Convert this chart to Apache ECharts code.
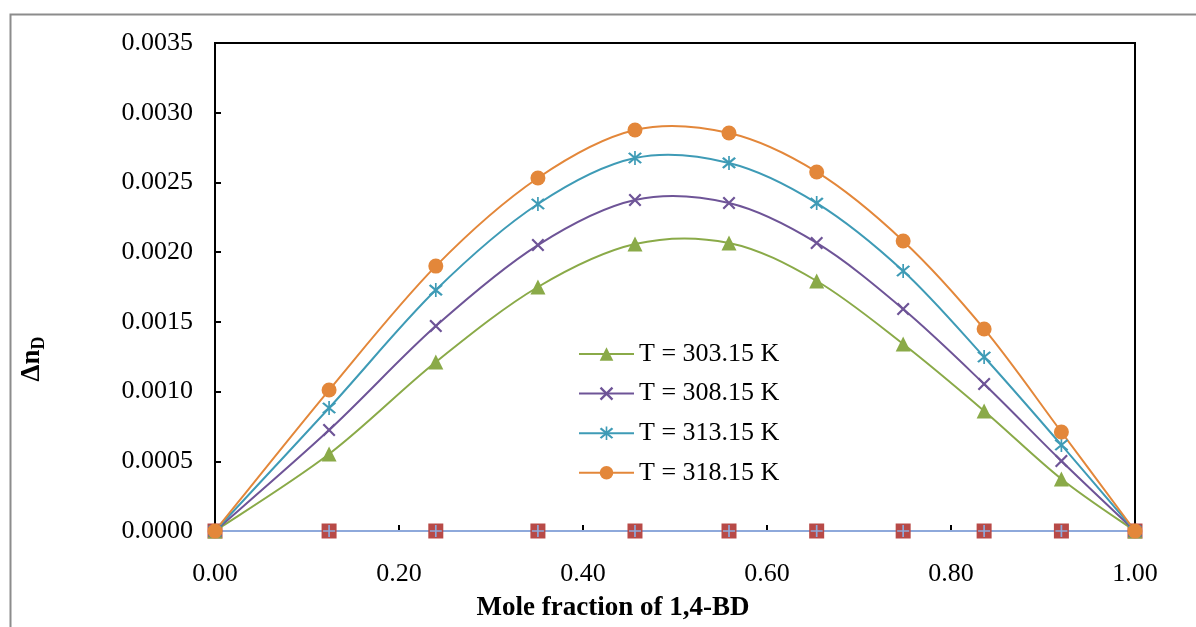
<!DOCTYPE html>
<html><head><meta charset="utf-8">
<script src="https://cdn.jsdelivr.net/npm/echarts@6/dist/echarts.min.js"></script>
<style>html,body{margin:0;padding:0;background:#fff}#c{width:1196px;height:627px}</style>
</head><body><div id="c"></div>
<script>
const xValues = [0, 0.124, 0.240, 0.351, 0.4565, 0.5587, 0.654, 0.748, 0.836, 0.920, 1.0];
const seriesNames = ['T = 303.15 K', 'T = 308.15 K', 'T = 313.15 K', 'T = 318.15 K'];
const y303 = [0, 0.000552, 0.001212, 0.00175, 0.002058, 0.002066, 0.001793, 0.001341, 0.000861, 0.000373, 0];
const y308 = [0, 0.000724, 0.00147, 0.002051, 0.002374, 0.002352, 0.002066, 0.001592, 0.001054, 0.000502, 0];
const y313 = [0, 0.000882, 0.001728, 0.002345, 0.002675, 0.00264, 0.002352, 0.001865, 0.001248, 0.000617, 0];
const y318 = [0, 0.001011, 0.0019, 0.002532, 0.002876, 0.002854, 0.002575, 0.00208, 0.001449, 0.00071, 0];
const yZero = [0, 0, 0, 0, 0, 0, 0, 0, 0, 0, 0];
const yTicks = { min: 0, max: 0.0035, interval: 0.0005 };
const xTicks = { min: 0, max: 1, interval: 0.2 };

const pair = ys => xValues.map((x, i) => [x, ys[i]]);
const font = 'Liberation Serif';
const crossPath = 'path://M0,1.2 L1.2,0 L10,8.8 L8.8,10 Z M8.8,0 L10,1.2 L1.2,10 L0,8.8 Z';
const starPath = 'path://M0,1.2 L1.2,0 L10,8.8 L8.8,10 Z M8.8,0 L10,1.2 L1.2,10 L0,8.8 Z M4.4,-1 L5.6,-1 L5.6,11 L4.4,11 Z';
const plusPath = 'path://M4.3,0 L5.7,0 L5.7,10 L4.3,10 Z M0,4.3 L10,4.3 L10,5.7 L0,5.7 Z';

const colors = ['#8AAA48', '#6E5497', '#3E9BB6', '#E3873A'];
const symbols = ['triangle', crossPath, starPath, 'circle'];
const sizes = [15, 13, 14, 15];
const allY = [y303, y308, y313, y318];

// Smooth (Catmull-Rom style) curve drawn through the data points, via the axis scale (api.coord)
function curveSeries(ys, color) {
  const n = xValues.length;
  return {
    type: 'custom', data: pair(ys), encode: { x: 0, y: 1 }, silent: true, z: 4,
    renderItem(params, api) {
      const i = params.dataIndex;
      if (i >= n - 1) return null;
      const P = k => { const j = Math.max(0, Math.min(n - 1, k)); return api.coord([xValues[j], ys[j]]); };
      const p0 = P(i - 1), p1 = P(i), p2 = P(i + 1), p3 = P(i + 2);
      const t = 1 / 6;
      return {
        type: 'bezierCurve',
        shape: {
          x1: p1[0], y1: p1[1], x2: p2[0], y2: p2[1],
          cpx1: p1[0] + (p2[0] - p0[0]) * t, cpy1: p1[1] + (p2[1] - p0[1]) * t,
          cpx2: p2[0] - (p3[0] - p1[0]) * t, cpy2: p2[1] - (p3[1] - p1[1]) * t
        },
        style: { stroke: color, lineWidth: 2, fill: 'none' }
      };
    }
  };
}

const markerSeries = (name, ys, color, symbol, size) => ({
  name, type: 'line', data: pair(ys),
  lineStyle: { color, width: 0 }, itemStyle: { color },
  symbol, symbolSize: size, z: 5
});

const series = [
  { name: 'zero-a', type: 'line', data: pair(yZero), symbol: 'rect', symbolSize: 15,
    lineStyle: { color: '#8EA9DB', width: 2 }, itemStyle: { color: '#B84A47' }, z: 3 },
  { name: 'zero-b', type: 'line', data: pair(yZero), symbol: plusPath, symbolSize: 12,
    lineStyle: { color: '#8EA9DB', width: 2 }, itemStyle: { color: '#8EA9DB' }, z: 3 }
];
allY.forEach((ys, i) => series.push(curveSeries(ys, colors[i])));
allY.forEach((ys, i) => series.push(markerSeries(seriesNames[i], ys, colors[i], symbols[i], sizes[i])));

const chart = echarts.init(document.getElementById('c'));
chart.setOption({
  animation: false,
  graphic: [
    { type: 'rect', left: 8, top: 12, shape: { width: 1200, height: 640 },
      style: { fill: 'none', stroke: '#8c8c8c', lineWidth: 2 }, z: -10 },
    { type: 'text', x: 32, y: 359, rotation: Math.PI / 2,
      style: { text: '{a|Δn}{b|D}', align: 'center', verticalAlign: 'middle',
        rich: { a: { fontFamily: font, fontSize: 27, fontWeight: 'bold', fill: '#000' },
                b: { fontFamily: font, fontSize: 18, fontWeight: 'bold', fill: '#000', padding: [14, 0, 0, 0] } } } },
    { type: 'text', x: 613, y: 608,
      style: { text: 'Mole fraction of 1,4-BD', align: 'center', verticalAlign: 'middle',
        fontFamily: font, fontSize: 27, fontWeight: 'bold', fill: '#000' } }
  ],
  grid: { left: 215, right: 61, top: 43, bottom: 96, show: true, borderColor: '#000', borderWidth: 2, backgroundColor: 'transparent' },
  legend: {
    data: seriesNames.map((n, i) => ({ name: n, lineStyle: { color: colors[i], width: 2 }, itemStyle: { color: colors[i] } })),
    orient: 'vertical', left: 573, top: 336, itemWidth: 55, itemHeight: 17, itemGap: 13.6,
    textStyle: { fontFamily: font, fontSize: 26, lineHeight: 26, color: '#000' }
  },
  xAxis: {
    type: 'value', min: xTicks.min, max: xTicks.max, interval: xTicks.interval,
    axisLine: { lineStyle: { color: '#000', width: 2 } },
    axisTick: { inside: true, length: 6, lineStyle: { color: '#000', width: 2 } },
    axisLabel: { fontFamily: font, fontSize: 26, color: '#000', margin: 30, formatter: v => v.toFixed(2) },
    splitLine: { show: false }
  },
  yAxis: {
    type: 'value', min: yTicks.min, max: yTicks.max, interval: yTicks.interval,
    axisLine: { lineStyle: { color: '#000', width: 2 } },
    axisTick: { inside: true, length: 6, lineStyle: { color: '#000', width: 2 } },
    axisLabel: { fontFamily: font, fontSize: 26, color: '#000', margin: 22, formatter: v => v.toFixed(4) },
    splitLine: { show: false }
  },
  series
});
</script></body></html>
